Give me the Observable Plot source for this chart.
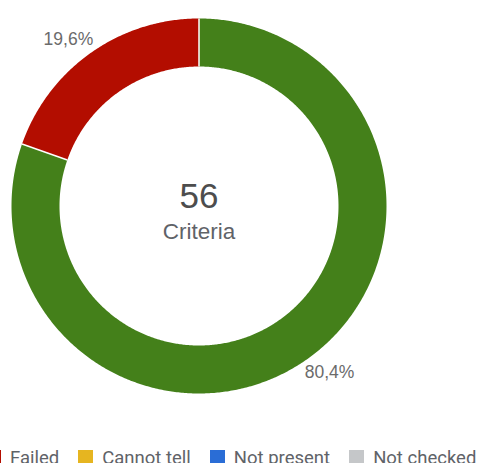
<!DOCTYPE html>
<html><head><meta charset="utf-8">
<script src="https://cdn.jsdelivr.net/npm/d3@7"></script>
<script src="https://cdn.jsdelivr.net/npm/@observablehq/plot@0.6"></script>
<style>
html,body{margin:0;padding:0;background:#fff;overflow:hidden;width:481px;height:463px}
#chart{position:relative;width:481px;height:463px}
#chart svg{display:block}
.legend{position:absolute;left:-118px;top:448px;white-space:nowrap;font:18.5px Roboto,"Liberation Sans",Arial,sans-serif;line-height:20px;color:#5f6368}
.item{display:inline-block;margin-right:19px}
.sw{display:inline-block;width:15px;height:15px;vertical-align:-1px;margin-right:9px}
</style></head><body><div id="chart"></div>
<script>
const categories = ["Passed", "Failed", "Cannot tell", "Not present", "Not checked"];
const values = [45, 11, 0, 0, 0];
const colors = ["#44801a", "#b30d00", "#e6b520", "#2a6dd6", "#c5c7c9"];
const centerLabel = "Criteria";

const data = categories.map((c, i) => ({category: c, value: values[i]}));
const total = d3.sum(values);
const arcs = d3.pie().sort(null).value(d => d.value)(data).filter(a => a.data.value > 0);

const R = 1, r = 0.744, labelR = 1.13, labelShift = -2.7 * Math.PI / 180;
const ring = [];
for (const a of arcs) {
  const n = Math.max(2, Math.ceil((a.endAngle - a.startAngle) / (2 * Math.PI) * 720));
  for (let i = 0; i <= n; i++) {
    const t = a.startAngle + (a.endAngle - a.startAngle) * i / n;
    ring.push({category: a.data.category, x: R * Math.sin(t), y: R * Math.cos(t)});
  }
  for (let i = n; i >= 0; i--) {
    const t = a.startAngle + (a.endAngle - a.startAngle) * i / n;
    ring.push({category: a.data.category, x: r * Math.sin(t), y: r * Math.cos(t)});
  }
}
const seps = arcs.map(a => ({x1: r * Math.sin(a.startAngle), y1: r * Math.cos(a.startAngle), x2: R * Math.sin(a.startAngle), y2: R * Math.cos(a.startAngle)}));
const labels = arcs.map(a => {
  const m = (a.startAngle + a.endAngle) / 2 + labelShift;
  return {x: labelR * Math.sin(m), y: labelR * Math.cos(m), text: (a.data.value / total * 100).toFixed(1).replace(".", ",") + "%"};
});

const cx = 198.5, cy = 205.5, pr = 187.5;
const chart = Plot.plot({
  width: 481, height: 440,
  margin: 0,
  style: {fontFamily: '"Liberation Sans", Arial, sans-serif', background: "#fff"},
  x: {domain: [-1, 1], range: [cx - pr, cx + pr], axis: null},
  y: {domain: [-1, 1], range: [cy + pr, cy - pr], axis: null},
  color: {domain: categories, range: colors},
  marks: [
    Plot.line(ring, {x: "x", y: "y", z: "category", fill: "category", stroke: null}),
    Plot.link(seps, {x1: "x1", y1: "y1", x2: "x2", y2: "y2", stroke: "#fff", strokeWidth: 1.5}),
    Plot.text(labels, {x: "x", y: "y", text: "text", fontSize: 17.5, fill: "#6b6b6b", textAnchor: "middle", lineAnchor: "middle"}),
    Plot.text([String(total)], {x: () => 0, y: () => -0.008, text: d => d, fontSize: 35, fill: "#4d4d4d", textAnchor: "middle", lineAnchor: "bottom"}),
    Plot.text([centerLabel], {x: () => 0, y: () => -0.176, text: d => d, fontSize: 22.5, fill: "#5f6368", textAnchor: "middle", lineAnchor: "bottom"})
  ]
});
const root = document.getElementById("chart");
root.appendChild(chart);

const legend = document.createElement("div");
legend.className = "legend";
categories.forEach((c, i) => {
  const item = document.createElement("span");
  item.className = "item";
  const sw = document.createElement("span");
  sw.className = "sw";
  sw.style.background = colors[i];
  item.appendChild(sw);
  item.appendChild(document.createTextNode(c));
  legend.appendChild(item);
});
root.appendChild(legend);
</script>
</body></html>
